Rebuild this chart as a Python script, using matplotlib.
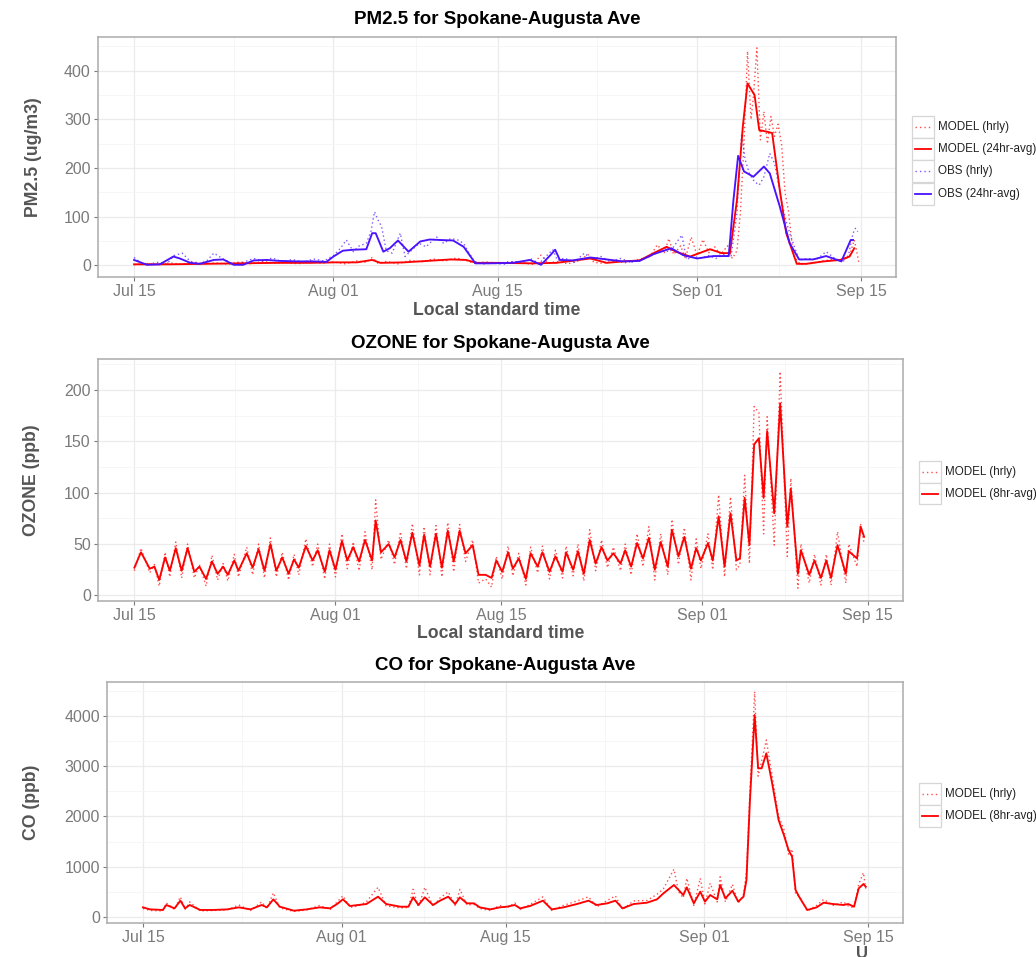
import matplotlib
matplotlib.use("Agg")
import matplotlib.pyplot as plt
from matplotlib.patches import Rectangle
from matplotlib.lines import Line2D

plt.rcParams['font.family'] = ['Liberation Sans', 'DejaVu Sans']

# ---------------- data (time = days since Jul 15, local standard time) ----------------
x_tick_days = [0, 17, 31, 48, 62]
x_tick_labels = ["Jul 15", "Aug 01", "Aug 15", "Sep 01", "Sep 15"]
x_minor_days = [8.5, 24, 39.5, 55]

# PM2.5 (ug/m3)
pm_model_hr_t = [0, 1, 2, 3, 4, 5, 6, 7, 8, 9,
                 10, 11, 12, 13, 14, 15, 16, 17, 18, 19,
                 19.8, 20.3, 20.8, 21.5, 22.5, 23.5, 24.5, 25.5, 26.5, 27.5,
                 28.3, 29, 30, 31, 32, 33, 34, 34.7, 35.3, 36,
                 37, 38, 38.7, 39.2, 40, 41, 42, 43, 44, 44.6,
                 45.2, 45.6, 46, 46.6, 47, 47.5, 48, 48.5, 49, 49.5,
                 50, 50.6, 51, 51.4, 51.7, 52.0, 52.3, 52.6, 52.8, 53.1,
                 53.4, 53.7, 54.0, 54.3, 54.6, 54.9, 55.2, 55.5, 55.8, 56.2,
                 56.8, 57.5, 58.5, 59.5, 60.5, 61.0, 61.4, 61.6, 61.8]
pm_model_hr_v = [1, 4, 1, 5, 2, 6, 3, 5, 2, 7,
                 3, 8, 4, 6, 3, 9, 4, 7, 3, 9,
                 6, 16, 4, 8, 3, 10, 7, 13, 9, 15,
                 10, 4, 7, 3, 8, 5, 2, 21, 4, 8,
                 3, 10, 22, 6, 4, 9, 5, 12, 18, 42,
                 26, 55, 22, 40, 14, 58, 20, 53, 26, 38,
                 22, 40, 14, 30, 110, 250, 440, 300, 347, 447,
                 258, 316, 250, 306, 265, 290, 250, 150, 110, 20,
                 2, 3, 8, 12, 9, 20, 52, 30, 4]

pm_model_24_t = [0, 3, 6, 9, 12, 15, 17, 19, 20.3, 21,
                 23, 25, 27, 28.3, 29.2, 31, 34, 36, 38.9, 40.3,
                 41.7, 43.1, 44.3, 45.4, 46.2, 47.4, 48.2, 49.1, 50.1, 50.8,
                 51.4, 51.9, 52.3, 52.9, 53.3, 53.9, 54.4, 55.05, 55.6, 56.5,
                 57.3, 58.8, 60.2, 61.0, 61.4]
pm_model_24_v = [2, 2, 3, 4, 5, 5, 6, 6, 11, 5,
                 6, 9, 12, 11, 5, 5, 4, 5, 14, 5,
                 8, 10, 25, 38, 28, 18, 25, 33, 25, 25,
                 134, 285, 374, 350, 278, 275, 272, 155, 66, 3,
                 3, 8, 11, 18, 35]

pm_obs_hr_t = [0, 0.6, 1.2, 2.0, 2.8, 3.4, 4.1, 4.8, 5.6, 6.2,
               6.8, 7.6, 8.4, 9.3, 10.2, 11.0, 11.8, 12.6, 13.5, 14.4,
               15.3, 16.2, 17.0, 17.6, 18.1, 18.7, 19.2, 19.8, 20.2, 20.5,
               20.8, 21.1, 21.5, 22.0, 22.7, 23.1, 23.7, 24.3, 24.9, 25.4,
               25.8, 26.4, 27.0, 27.6, 28.1, 28.5, 29.0, 29.8, 30.6, 31.5,
               32.4, 33.3, 33.8, 34.5, 35.1, 35.7, 36.1, 36.7, 37.5, 38.4,
               39.0, 39.8, 40.6, 41.5, 42.4, 43.3, 44.0, 44.6, 45.2, 45.7,
               46.2, 46.7, 47.1, 47.7, 48.3, 49.0, 49.6, 50.3, 50.9, 51.4,
               51.8, 52.1, 52.5, 52.9, 53.3, 53.7, 54.2, 54.6, 55.0, 55.3,
               55.6, 55.9, 56.3, 56.7, 57.4, 58.2, 59.0, 59.7, 60.4, 60.9,
               61.3, 61.5, 61.7]
pm_obs_hr_v = [16, 5, 2, 6, 3, 20, 25, 8, 4, 9,
               25, 13, 3, 6, 14, 9, 15, 7, 12, 6,
               13, 9, 20, 35, 52, 28, 40, 45, 70, 110,
               93, 80, 30, 25, 66, 18, 32, 45, 38, 50,
               58, 45, 55, 52, 45, 28, 8, 3, 6, 2,
               8, 5, 14, 3, 18, 32, 10, 15, 6, 25,
               12, 18, 8, 14, 6, 12, 18, 26, 30, 28,
               45, 62, 12, 18, 15, 20, 14, 22, 18, 107,
               270, 217, 186, 172, 165, 182, 230, 210, 160, 121,
               90, 66, 38, 11, 14, 12, 28, 15, 8, 20,
               66, 76, 69]

pm_obs_24_t = [0, 1.1, 2.2, 3.35, 3.9, 4.8, 5.6, 6.8, 7.6, 8.5,
               9.3, 10.2, 11.3, 12.4, 13.9, 15.3, 16.4, 17.0, 17.8, 18.7,
               19.8, 20.3, 20.6, 21.25, 21.8, 22.5, 23.4, 24.4, 25.2, 26.1,
               27.2, 28.1, 29.1, 30.3, 32.3, 33.75, 34.7, 35.5, 35.9, 36.3,
               37.4, 38.9, 40.3, 41.7, 43.1, 44.3, 45.8, 46.8, 48.0, 49.4,
               50.7, 51.1, 51.5, 52.0, 52.8, 53.7, 54.2, 55.05, 55.9, 56.7,
               57.9, 59.0, 60.3, 61.1, 61.3]
pm_obs_24_v = [11, 1, 2, 18, 14, 5, 3, 11, 12, 1,
               1, 10, 11, 9, 8, 8, 7, 18, 30, 32,
               33, 66, 66, 28, 35, 51, 28, 49, 53, 52,
               51, 38, 4, 4, 5, 11, 1, 21, 32, 11,
               10, 16, 12, 8, 9, 23, 35, 21, 14, 19,
               19, 134, 225, 193, 182, 203, 189, 121, 45, 12,
               12, 19, 8, 52, 52]

# OZONE (ppb)
o3_t = [0, 0.56, 1.3, 1.7, 2.1, 2.6, 3.0, 3.5, 4.0, 4.5,
        5.07, 5.5, 6.06, 6.56, 7.04, 7.5, 7.9, 8.45, 8.8, 9.5,
        10.0, 10.5, 11.0, 11.5, 12.0, 12.5, 13.04, 13.5, 13.9, 14.5,
        15.07, 15.5, 16.1, 16.5, 17.0, 17.55, 18.0, 18.5, 19.0, 19.5,
        20.1, 20.4, 20.85, 21.5, 22.0, 22.5, 23.0, 23.5, 24.1, 24.5,
        25.0, 25.5, 26.0, 26.5, 27.0, 27.5, 28.0, 28.6, 29.1, 29.7,
        30.2, 30.6, 31.1, 31.6, 32.0, 32.5, 33.1, 33.5, 34.1, 34.5,
        35.1, 35.6, 36.2, 36.5, 37.1, 37.5, 38.0, 38.5, 39.0, 39.5,
        40.0, 40.5, 41.1, 41.5, 42.0, 42.5, 43.0, 43.5, 44.0, 44.5,
        45.1, 45.45, 46.0, 46.5, 47.06, 47.5, 47.9, 48.5, 48.9, 49.4,
        49.9, 50.4, 50.9, 51.2, 51.6, 52.0, 52.4, 52.8, 53.2, 53.5,
        54.1, 54.6, 55.2, 55.5, 56.1, 56.35, 57.06, 57.5, 58.04, 58.5,
        58.9, 59.45, 60.15, 60.4, 61.1, 61.4, 61.7]
o3_8hr_v = [27, 42, 26, 28, 15, 37, 24, 46, 24, 46,
            23, 28, 16, 33, 21, 28, 20, 34, 24, 41,
            27, 45, 24, 50, 24, 37, 21, 35, 27, 48,
            34, 44, 23, 44, 25, 53, 34, 47, 33, 54,
            34, 73, 42, 50, 37, 54, 33, 61, 29, 59,
            28, 60, 27, 63, 33, 63, 41, 49, 20, 20,
            17, 34, 23, 42, 26, 36, 16, 41, 28, 42,
            23, 38, 23, 42, 25, 43, 21, 54, 31, 47,
            34, 41, 31, 44, 28, 51, 36, 56, 25, 52,
            28, 64, 38, 57, 26, 46, 34, 51, 34, 77,
            28, 80, 34, 36, 95, 49, 147, 153, 95, 160,
            80, 187, 67, 104, 21, 44, 20, 34, 17, 34,
            17, 49, 21, 43, 36, 67, 57]
o3_hr_v = [24, 46, 22, 30, 9, 42, 18, 52, 17, 50,
           17, 30, 9, 39, 15, 31, 14, 40, 18, 47,
           20, 50, 17, 56, 18, 42, 15, 40, 20, 55,
           28, 50, 16, 50, 18, 60, 26, 52, 24, 62,
           25, 93, 35, 54, 30, 62, 26, 70, 20, 67,
           20, 68, 18, 71, 23, 69, 33, 54, 12, 16,
           8, 38, 16, 48, 19, 41, 10, 47, 22, 48,
           16, 44, 17, 48, 19, 50, 14, 64, 24, 54,
           27, 47, 24, 50, 20, 60, 28, 67, 15, 60,
           20, 74, 30, 66, 15, 55, 26, 60, 25, 98,
           18, 96, 25, 30, 117, 31, 184, 178, 60, 174,
           49, 218, 38, 114, 7, 50, 12, 40, 10, 40,
           10, 62, 12, 50, 28, 70, 50]

# CO (ppb)
co_t = [0, 0.6, 1.7, 2.0, 2.7, 3.2, 3.6, 4.0, 4.9, 6.0,
        7.2, 8.2, 9.2, 10.15, 10.6, 11.15, 11.7, 12.9, 14.0, 15.1,
        16.0, 16.6, 17.1, 17.7, 18.4, 19.1, 20.1, 20.8, 22.0, 22.7,
        23.1, 23.55, 24.1, 24.8, 25.4, 26.1, 26.7, 27.1, 27.7, 28.3,
        28.8, 29.7, 30.5, 31.1, 31.8, 32.25, 33.1, 34.2, 34.95, 35.95,
        37.1, 38.1, 38.8, 39.7, 40.4, 41.0, 41.95, 43.1, 43.95, 44.5,
        45.4, 45.8, 46.2, 46.5, 47.1, 47.65, 48.05, 48.5, 49.1, 49.35,
        49.8, 50.4, 50.9, 51.35, 51.6, 51.9, 52.3, 52.6, 52.9, 53.3,
        53.8, 54.35, 54.8, 55.2, 55.5, 55.8, 56.1, 56.8, 57.6, 58.2,
        59.0, 59.9, 60.3, 60.8, 61.2, 61.6, 61.8]
co_8hr_v = [192, 152, 140, 239, 172, 325, 172, 239, 140, 140,
            152, 192, 152, 239, 192, 351, 205, 126, 152, 192,
            172, 258, 351, 219, 239, 258, 404, 258, 205, 205,
            391, 239, 391, 239, 325, 404, 258, 391, 272, 272,
            192, 152, 192, 205, 239, 172, 219, 325, 152, 192,
            258, 325, 239, 272, 325, 172, 258, 285, 351, 470,
            636, 537, 437, 590, 272, 504, 305, 437, 351, 636,
            371, 523, 305, 404, 735, 2326, 4016, 2956, 2956, 3254,
            2657, 1928, 1630, 1332, 1200, 537, 404, 139, 192, 285,
            258, 239, 258, 205, 570, 656, 603]
co_hr_v = [170, 130, 120, 280, 150, 400, 150, 300, 120, 130,
           140, 240, 130, 300, 170, 480, 180, 110, 140, 230,
           150, 300, 420, 190, 220, 300, 590, 220, 180, 190,
           550, 200, 590, 210, 380, 500, 230, 550, 240, 250,
           170, 130, 230, 180, 280, 150, 250, 400, 130, 230,
           320, 400, 200, 330, 420, 150, 320, 330, 450, 560,
           950, 500, 380, 770, 230, 770, 260, 670, 300, 800,
           300, 650, 270, 450, 900, 2500, 4480, 2800, 3100, 3520,
           2800, 2000, 1750, 1250, 1350, 450, 420, 120, 230, 350,
           230, 300, 220, 180, 650, 880, 560]

# ---------------- style ----------------
W, H = 1036, 957
RED = '#FF0000'
BLUE = '#4A12FF'
GRID_MAJ = '#EBEBEB'
GRID_MIN = '#F5F5F5'
BORDER = '#ABABAB'
TICKC = '#7A7A7A'
LABC = '#555555'


def fx(x):
    return x / W


def fy(y):
    return 1 - y / H


fig = plt.figure(figsize=(W / 100, H / 100), dpi=100)


def make_axes(l, t, r, b):
    ax = fig.add_axes([fx(l), fy(b), fx(r - l), (b - t) / H])
    return ax


def style_axes(ax, yticks, yminor, ylim):
    ax.set_xlim(-3.1, 64.96)
    ax.set_ylim(*ylim)
    ax.set_xticks(x_tick_days)
    ax.set_xticklabels(x_tick_labels)
    ax.set_xticks(x_minor_days, minor=True)
    ax.set_yticks(yticks)
    ax.set_yticks(yminor, minor=True)
    ax.grid(True, which='major', color=GRID_MAJ, lw=0.9, zorder=0)
    ax.grid(True, which='minor', color=GRID_MIN, lw=0.6, zorder=0)
    ax.set_axisbelow(True)
    ax.tick_params(which='major', direction='out', length=2.8, width=0.8,
                   color=TICKC, labelcolor=TICKC, labelsize=11.5, pad=2.2)
    ax.tick_params(which='minor', length=0)
    for s in ax.spines.values():
        s.set_color(BORDER)
        s.set_linewidth(1.1)


def legend(x0, yc_list, items):
    for yc, (lab, col, ls) in zip(yc_list, items):
        fig.add_artist(Rectangle((fx(x0), fy(yc + 11)), fx(22), 22 / H,
                                 facecolor='white', edgecolor='#D6D6D6', lw=0.9))
        fig.add_artist(Line2D([fx(x0 + 3), fx(x0 + 19)], [fy(yc), fy(yc)],
                              color=col, lw=1.3 if ls == '-' else 1.0,
                              linestyle=ls if ls == '-' else (0, (1, 2.2)),
                              alpha=1.0 if ls == '-' else 0.7))
        fig.text(fx(x0 + 26), fy(yc), lab, fontsize=8.4, color='#222222',
                 va='center', ha='left')


DOT = (0, (1, 2))
SOLID_LW = 1.35

# ---------------- panel 1: PM2.5 ----------------
ax1 = make_axes(97.7, 36.7, 896, 277.3)
style_axes(ax1, [0, 100, 200, 300, 400], [50, 150, 250, 350, 450], (-24.7, 470))
ax1.plot(pm_model_hr_t, pm_model_hr_v, color=RED, lw=1.0, ls=DOT, alpha=0.7, zorder=2)
ax1.plot(pm_obs_hr_t, pm_obs_hr_v, color=BLUE, lw=1.0, ls=DOT, alpha=0.7, zorder=2)
ax1.plot(pm_model_24_t, pm_model_24_v, color=RED, lw=SOLID_LW, zorder=3)
ax1.plot(pm_obs_24_t, pm_obs_24_v, color=BLUE, lw=SOLID_LW, zorder=3)
fig.text(fx(496.9), fy(20), "PM2.5 for Spokane-Augusta Ave", fontsize=13.5,
         fontweight='bold', color='black', ha='center', va='center')
fig.text(fx(33), fy(157), "PM2.5 (ug/m3)", fontsize=12.7, fontweight='bold',
         color=LABC, rotation=90, ha='center', va='center')
fig.text(fx(496.9), fy(310.5), "Local standard time", fontsize=12.7,
         fontweight='bold', color=LABC, ha='center', va='center')
legend(911.7, [126.7, 149, 171.3, 193.5],
       [("MODEL (hrly)", RED, ':'), ("MODEL (24hr-avg)", RED, '-'),
        ("OBS (hrly)", BLUE, ':'), ("OBS (24hr-avg)", BLUE, '-')])

# ---------------- panel 2: OZONE ----------------
ax2 = make_axes(97.7, 359.3, 902.7, 600.7)
style_axes(ax2, [0, 50, 100, 150, 200], [25, 75, 125, 175, 225], (-5.2, 230))
ax2.plot(o3_t, o3_hr_v, color=RED, lw=1.0, ls=DOT, alpha=0.7, zorder=2)
ax2.plot(o3_t, o3_8hr_v, color=RED, lw=SOLID_LW, zorder=3)
fig.text(fx(500.2), fy(343), "OZONE for Spokane-Augusta Ave", fontsize=13.5,
         fontweight='bold', color='black', ha='center', va='center')
fig.text(fx(32), fy(480), "OZONE (ppb)", fontsize=12.7, fontweight='bold',
         color=LABC, rotation=90, ha='center', va='center')
fig.text(fx(500.2), fy(633.5), "Local standard time", fontsize=12.7,
         fontweight='bold', color=LABC, ha='center', va='center')
legend(919, [471.7, 493.5],
       [("MODEL (hrly)", RED, ':'), ("MODEL (8hr-avg)", RED, '-')])

# ---------------- panel 3: CO ----------------
ax3 = make_axes(106.7, 682.3, 902.7, 923.3)
style_axes(ax3, [0, 1000, 2000, 3000, 4000], [500, 1500, 2500, 3500, 4500], (-125, 4666))
ax3.plot(co_t, co_hr_v, color=RED, lw=1.0, ls=DOT, alpha=0.7, zorder=2)
ax3.plot(co_t, co_8hr_v, color=RED, lw=SOLID_LW, zorder=3)
fig.text(fx(504.7), fy(665.7), "CO for Spokane-Augusta Ave", fontsize=13.5,
         fontweight='bold', color='black', ha='center', va='center')
fig.text(fx(32), fy(802.5), "CO (ppb)", fontsize=12.7, fontweight='bold',
         color=LABC, rotation=90, ha='center', va='center')
legend(919, [794.3, 816],
       [("MODEL (hrly)", RED, ':'), ("MODEL (8hr-avg)", RED, '-')])
fig.text(fx(862), fy(954), "U", fontsize=12, fontweight='bold', color=LABC,
         ha='center', va='center')

fig.savefig("out.png", dpi=100)
